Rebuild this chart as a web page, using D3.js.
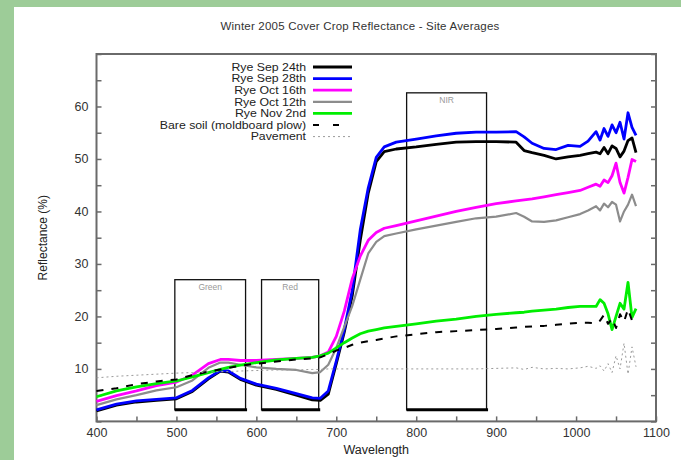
<!DOCTYPE html>
<html>
<head>
<meta charset="utf-8">
<script src="https://cdn.jsdelivr.net/npm/d3@7"></script>
<style>
  body { margin: 0; background: #9dcc98; }
  svg { display: block; font-family: "Liberation Sans", Arial, sans-serif; }
  .frame-axis path { display: none; }
  .frame-axis line { stroke: #6a6a6a; stroke-width: 1.5; }
  .frame-axis text { fill: #333; font-size: 12.5px; }
</style>
</head>
<body>
<div id="chart"></div>
<script>
const wavelengths = [400, 425, 450, 475, 500, 520, 540, 555, 565, 580, 600, 625, 650, 670, 680, 690, 700, 710, 720, 730,
  740, 750, 760, 775, 800, 825, 850, 875, 900, 925, 935, 945, 960, 975, 990, 1005, 1015, 1025, 1030, 1035,
  1040, 1045, 1050, 1055, 1060, 1065, 1070, 1075];

const ryeSep24 = [2.0, 3.1, 3.7, 4.0, 4.3, 5.7, 8.1, 9.6, 9.4, 8.0, 6.9, 6.1, 5.0, 4.1, 4.0, 5.2, 11.0, 17.0, 24.0, 34.5,
  43.5, 49.5, 51.4, 51.9, 52.3, 52.8, 53.2, 53.3, 53.3, 53.2, 51.6, 51.2, 50.7, 50.0, 50.4, 50.7, 51.0, 51.3, 51.0, 52.2,
  51.0, 52.5, 52.0, 50.4, 51.5, 53.5, 54.0, 51.2];

const ryeSep28 = [2.2, 3.3, 3.9, 4.2, 4.5, 5.9, 8.3, 9.7, 9.6, 8.2, 7.1, 6.3, 5.3, 4.5, 4.4, 5.8, 11.5, 17.5, 25.0, 36.5,
  44.5, 50.3, 52.3, 53.2, 53.8, 54.4, 54.9, 55.1, 55.1, 55.2, 54.2, 53.0, 52.0, 51.8, 52.6, 52.4, 53.4, 55.2, 53.6, 55.8,
  54.3, 56.5, 55.0, 57.0, 53.8, 58.8, 56.0, 54.5];

const ryeOct16 = [3.8, 4.9, 5.8, 6.8, 7.5, 8.8, 11.0, 11.8, 11.8, 11.6, 11.6, 11.8, 12.0, 12.2, 12.5, 13.2, 16.2, 21.0, 27.2, 31.5,
  34.5, 36.0, 36.8, 37.3, 38.2, 39.1, 40.0, 40.8, 41.5, 42.0, 42.2, 42.4, 42.8, 43.2, 43.6, 44.0, 44.6, 45.2, 44.8, 46.0,
  45.5, 46.8, 49.2, 45.5, 43.5, 46.5, 49.9, 49.5];

const ryeOct12 = [3.1, 4.2, 5.0, 5.9, 6.5, 7.8, 10.2, 11.2, 11.2, 10.8, 10.3, 10.0, 9.8, 9.2, 9.4, 10.8, 14.0, 18.0, 22.0, 27.0,
  32.0, 34.2, 35.3, 35.8, 36.6, 37.3, 38.0, 38.7, 39.0, 39.7, 39.0, 38.1, 38.0, 38.3, 38.9, 39.5, 40.2, 41.0, 40.2, 41.5,
  40.8, 41.8, 41.3, 38.1, 40.0, 41.3, 43.2, 41.0];

const ryeNov2 = [4.7, 5.8, 6.6, 7.2, 7.7, 8.5, 9.3, 9.9, 10.3, 10.7, 11.2, 11.7, 12.0, 12.2, 12.5, 13.0, 14.0, 15.0, 15.9, 16.7,
  17.2, 17.5, 17.8, 18.1, 18.6, 19.1, 19.5, 20.0, 20.4, 20.7, 20.8, 21.0, 21.2, 21.4, 21.7, 21.9, 21.9, 21.9, 23.2, 22.5,
  20.5, 17.5, 20.0, 22.5, 21.4, 26.5, 19.8, 21.5];

const bareSoil = [5.8, 6.3, 7.1, 7.6, 8.0, 8.8, 9.5, 9.9, 10.2, 10.6, 11.0, 11.4, 11.8, 12.0, 12.2, 12.8, 13.5, 14.0, 14.6, 15.0,
  15.3, 15.5, 15.8, 16.2, 16.6, 17.0, 17.2, 17.4, 17.6, 17.9, 18.0, 18.1, 18.2, 18.4, 18.6, 18.8, 18.8, 18.7, 19.2, 20.3,
  18.6, 19.6, 17.8, 20.4, 19.0, 21.4, 19.2, 20.3];

const pavement = [8.3, 8.6, 8.8, 9.0, 9.2, 9.3, 9.4, 9.5, 9.5, 9.6, 9.7, 9.8, 9.8, 9.9, 9.9, 10.0, 10.0, 10.0, 10.0, 10.0,
  10.0, 10.0, 10.0, 10.0, 10.0, 10.0, 10.0, 10.0, 10.1, 10.2, 9.9, 10.3, 10.0, 10.1, 10.0, 10.2, 10.5, 10.1, 10.6, 9.6,
  11.0, 9.3, 12.5, 10.0, 14.9, 9.0, 14.2, 10.4];

const seriesNames = ["Rye Sep 24th", "Rye Sep 28th", "Rye Oct 16th", "Rye Oct 12th", "Rye Nov 2nd",
  "Bare soil (moldboard plow)", "Pavement"];
const seriesValues = [ryeSep24, ryeSep28, ryeOct16, ryeOct12, ryeNov2, bareSoil, pavement];

// band boxes: label, from nm, to nm, top %
const bandNames = ["Green", "Red", "NIR"];
const bandFrom = [498, 606.5, 788];
const bandTo = [586.5, 678, 888];
const bandTop = [27, 27, 62.6];
const bandBottom = 2.2;

const xTicks = d3.range(400, 1101, 50);
const yTicks = d3.range(0, 71, 5);

const styles = [
  { color: "#000", width: 2.8, dash: null },
  { color: "#0000ff", width: 2.8, dash: null },
  { color: "#ff00ff", width: 2.8, dash: null },
  { color: "#8c8c8c", width: 2.2, dash: null },
  { color: "#00ee00", width: 2.8, dash: null },
  { color: "#000", width: 2, dash: "7,8" },
  { color: "#9a9a9a", width: 1, dash: "2,3" }
];

const W = 681, H = 460;
const plot = { left: 96.5, right: 656, top: 54, bottom: 421.4 };

const svg = d3.select("#chart").append("svg")
  .attr("width", W)
  .attr("height", H);

// white panel on green page
svg.append("rect")
  .attr("x", 14).attr("y", 7)
  .attr("width", W - 14).attr("height", H - 7)
  .attr("fill", "#fff");

const x = d3.scaleLinear().domain([400, 1100]).range([plot.left, plot.right]);
const y = d3.scaleLinear().domain([0, 70]).range([plot.bottom, plot.top]);

svg.append("text")
  .attr("x", 360).attr("y", 30)
  .attr("text-anchor", "middle")
  .style("font-size", "11.5px")
  .style("letter-spacing", "0.2px")
  .style("fill", "#333")
  .text("Winter 2005 Cover Crop Reflectance - Site Averages");

// axes with inward ticks
svg.append("g")
  .attr("class", "frame-axis")
  .attr("transform", `translate(0,${plot.bottom})`)
  .call(d3.axisBottom(x)
    .tickValues(xTicks)
    .tickSize(-5)
    .tickPadding(7)
    .tickFormat(d => d % 100 === 0 ? d : ""));

svg.append("g")
  .attr("class", "frame-axis")
  .attr("transform", `translate(${plot.left},0)`)
  .call(d3.axisLeft(y)
    .tickValues(yTicks)
    .tickSize(-5)
    .tickPadding(8)
    .tickFormat(d => (d % 10 === 0 && d > 0 && d < 70) ? d : ""));

svg.append("g")
  .attr("class", "frame-axis")
  .attr("transform", `translate(${plot.right},0)`)
  .call(d3.axisRight(y)
    .tickValues(yTicks)
    .tickSize(-5)
    .tickFormat(""));

svg.append("rect")
  .attr("x", plot.left).attr("y", plot.top)
  .attr("width", plot.right - plot.left)
  .attr("height", plot.bottom - plot.top)
  .attr("fill", "none")
  .attr("stroke", "#6a6a6a")
  .attr("stroke-width", 2);

svg.append("text")
  .attr("x", (plot.left + plot.right) / 2).attr("y", 454)
  .attr("text-anchor", "middle")
  .style("font-size", "12.5px")
  .style("fill", "#222")
  .text("Wavelength");

svg.append("text")
  .attr("transform", `translate(47,${(plot.top + plot.bottom) / 2}) rotate(-90)`)
  .attr("text-anchor", "middle")
  .style("font-size", "12px")
  .style("fill", "#222")
  .text("Reflectance (%)");

// band boxes
bandNames.forEach((name, i) => {
  const x0 = x(bandFrom[i]), x1 = x(bandTo[i]);
  svg.append("rect")
    .attr("x", x0).attr("y", y(bandTop[i]))
    .attr("width", x1 - x0)
    .attr("height", y(bandBottom) - y(bandTop[i]))
    .attr("fill", "none")
    .attr("stroke", "#111")
    .attr("stroke-width", 1.3);
  svg.append("line")
    .attr("x1", x0).attr("x2", x1 + 1.5)
    .attr("y1", y(bandBottom)).attr("y2", y(bandBottom))
    .attr("stroke", "#000")
    .attr("stroke-width", 3);
  svg.append("text")
    .attr("x", (x0 + x1) / 2).attr("y", y(bandTop[i]) + 10)
    .attr("text-anchor", "middle")
    .style("font-size", "8.5px")
    .style("fill", "#999")
    .text(name);
});

// spectra
const line = d3.line()
  .x((d, i) => x(wavelengths[i]))
  .y(d => y(d));

seriesValues.forEach((vals, i) => {
  svg.append("path")
    .datum(vals)
    .attr("d", line)
    .attr("fill", "none")
    .attr("stroke", styles[i].color)
    .attr("stroke-width", styles[i].width)
    .attr("stroke-linejoin", "round")
    .attr("stroke-dasharray", styles[i].dash);
});

// legend (text stretched a little sideways, as in the original)
const legend = svg.append("g");
seriesNames.forEach((name, i) => {
  const ly = 67 + i * 11.6;
  legend.append("text")
    .attr("transform", `translate(306,${ly}) scale(1.12,1)`)
    .attr("dy", "0.35em")
    .attr("text-anchor", "end")
    .style("font-size", "11px")
    .style("fill", "#222")
    .text(name);
  legend.append("line")
    .attr("x1", 313).attr("x2", 352)
    .attr("y1", ly).attr("y2", ly)
    .attr("stroke", styles[i].color)
    .attr("stroke-width", styles[i].width)
    .attr("stroke-dasharray", i === 5 ? "6,14" : styles[i].dash);
});
</script>
</body>
</html>
